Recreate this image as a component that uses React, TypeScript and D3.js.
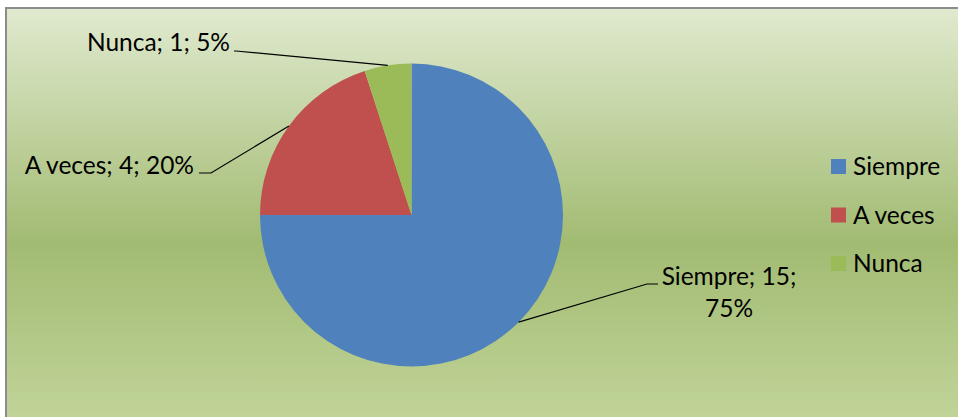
import React, { useEffect, useRef } from 'react';
import * as d3 from 'd3';

const categories = ['Siempre', 'A veces', 'Nunca'];
const values = [15, 4, 1];
const colors = ['#4f81bd', '#c0504d', '#9bbb59'];

const App: React.FC = () => {
  const svgRef = useRef<SVGSVGElement | null>(null);

  useEffect(() => {
    if (!svgRef.current) return;
    const width = 958;
    const height = 417;
    const cx = 411.5;
    const cy = 215;
    const radius = 151.5;
    const font = 'Lato, sans-serif';
    const fontSize = 24.5;

    const svg = d3.select(svgRef.current);
    svg.selectAll('*').remove();
    svg.attr('width', width).attr('height', height);

    // background gradient
    const defs = svg.append('defs');
    const grad = defs
      .append('linearGradient')
      .attr('id', 'bg')
      .attr('x1', 0)
      .attr('y1', 0)
      .attr('x2', 0)
      .attr('y2', 1);
    grad.append('stop').attr('offset', '0%').attr('stop-color', '#e0eacf');
    grad.append('stop').attr('offset', '55%').attr('stop-color', '#a2bb72');
    grad.append('stop').attr('offset', '100%').attr('stop-color', '#c3d69c');

    svg.append('rect').attr('width', width).attr('height', height).attr('fill', '#ffffff');
    svg
      .append('rect')
      .attr('x', 6)
      .attr('y', 8)
      .attr('width', width + 10)
      .attr('height', height + 10)
      .attr('fill', 'url(#bg)')
      .attr('stroke', '#8c8c8c')
      .attr('stroke-width', 2);

    const total = d3.sum(values);
    const pie = d3
      .pie<number>()
      .sort(null)
      .value((d) => d);
    const arcs = pie(values);
    const arc = d3.arc<d3.PieArcDatum<number>>().innerRadius(0).outerRadius(radius);
    const edge = d3.arc<d3.PieArcDatum<number>>().innerRadius(radius).outerRadius(radius);

    const g = svg.append('g').attr('transform', `translate(${cx},${cy})`);
    g.selectAll('path')
      .data(arcs)
      .enter()
      .append('path')
      .attr('d', (d) => arc(d) as string)
      .attr('fill', (d, i) => colors[i]);

    // leader lines + labels
    const labelPos = [
      { elbow: [647, 284], end: [658, 284], x: 729, y: 285, anchor: 'middle' },
      { elbow: [211, 173], end: [199, 173], x: 194, y: 174, anchor: 'end' },
      { elbow: [236, 51], end: [234, 51], x: 230, y: 51, anchor: 'end' },
    ];

    arcs.forEach((d, i) => {
      const [mx, my] = edge.centroid(d);
      const p = labelPos[i];
      const pct = Math.round((values[i] / total) * 100);
      svg
        .append('polyline')
        .attr('points', `${cx + mx},${cy + my} ${p.elbow[0]},${p.elbow[1]} ${p.end[0]},${p.end[1]}`)
        .attr('fill', 'none')
        .attr('stroke', '#000')
        .attr('stroke-width', 1.2);
      const t = svg
        .append('text')
        .attr('x', p.x)
        .attr('y', p.y)
        .attr('text-anchor', p.anchor)
        .style('font-family', font)
        .style('font-size', `${fontSize}px`)
        .attr('fill', '#000');
      if (i === 0) {
        t.append('tspan').attr('x', p.x).text(`${categories[i]}; ${values[i]};`);
        t.append('tspan').attr('x', p.x).attr('dy', 32).text(`${pct}%`);
      } else {
        t.text(`${categories[i]}; ${values[i]}; ${pct}%`);
      }
    });

    // legend
    const legend = svg.append('g').attr('transform', 'translate(831,159)');
    categories.forEach((c, i) => {
      const row = legend.append('g').attr('transform', `translate(0,${i * 48.5})`);
      row.append('rect').attr('width', 15).attr('height', 15).attr('fill', colors[i]);
      row
        .append('text')
        .attr('x', 22)
        .attr('y', 16)
        .style('font-family', font)
        .style('font-size', `${fontSize}px`)
        .attr('fill', '#000')
        .text(c);
    });
  }, []);

  return <svg ref={svgRef} style={{ position: 'absolute', left: 0, top: 0 }}></svg>;
};

export default App;
